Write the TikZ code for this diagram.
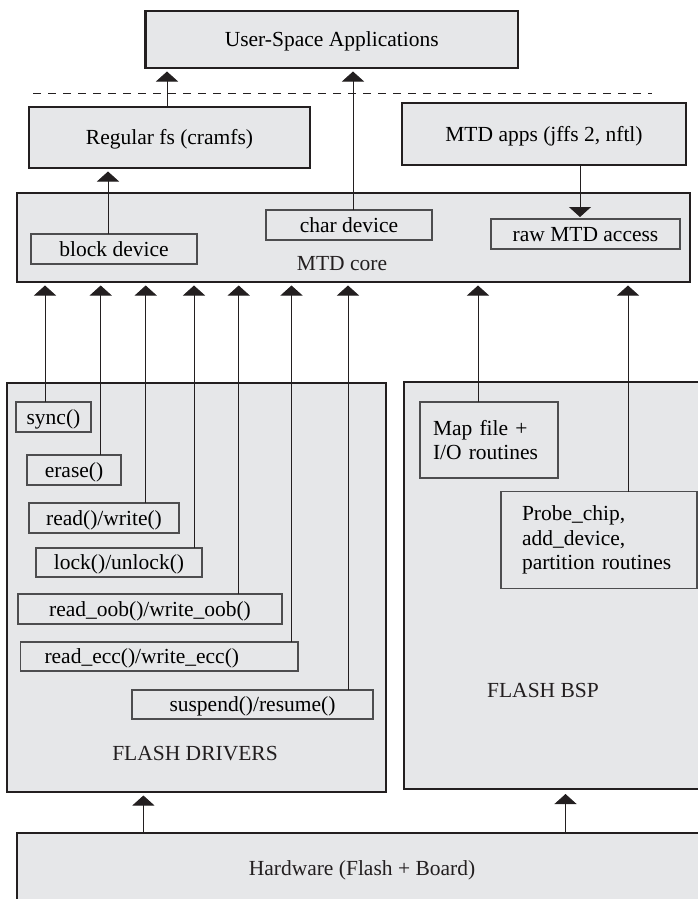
\documentclass[tikz,border=0pt]{standalone}
\usepackage{fontspec}
\setmainfont{Liberation Serif}
\usetikzlibrary{arrows.meta,calc}
\definecolor{boxfill}{HTML}{E6E7E9}
\definecolor{boxline}{HTML}{231F20}
\definecolor{subline}{HTML}{4D4D4F}
\begin{document}
\begin{tikzpicture}[x=1pt,y=-1pt,
  every node/.style={font=\fontsize{21.5}{24.5}\selectfont, inner sep=0pt, outer sep=0pt},
  one/.style={text height=16pt, text depth=2pt},
  bigbox/.style 2 args={draw=boxline, fill=boxfill, line width=2.3pt, minimum width=#1pt, minimum height=#2pt},
  subbox/.style 2 args={draw=subline, fill=boxfill, line width=1.1pt, minimum width=#1pt, minimum height=#2pt},
  lbl/.style={anchor=base, text=boxline},
  arr/.style={draw=boxline, line width=0.9pt, -{Triangle[width=22pt,length=10pt]}, shorten >=3.5pt},
  conn/.style={draw=boxline, line width=0.9pt}
]
\useasboundingbox (0,0) rectangle (698,899);
\clip (0,0) rectangle (698,899);

% main boxes
\node[bigbox={372.5}{57}, one] (user) at (331.75,39.5) {User-Space Applications};
\node[bigbox={281}{61}, one] (regfs) at (169.5,137.5) {Regular fs (cramfs)};
\node[bigbox={284}{62}, one] (mtdapps) at (544,134) {MTD apps (jffs 2, nftl)};
\node[bigbox={673}{89}] (core) at (353.5,237.5) {};
\node[lbl] (corelbl) at (342,270) {MTD core};
\node[bigbox={379}{409}] (drivers) at (196.5,587.5) {};
\node[lbl] (drvlbl) at (195,760) {FLASH DRIVERS};
\node[bigbox={326}{407}] (bsp) at (567,585.5) {};
\node[lbl] (bsplbl) at (543,697) {FLASH BSP};
\node[bigbox={723}{107}] (hw) at (378.5,886.5) {};
\node[lbl] (hwlbl) at (362,875) {Hardware (Flash + Board)};

% MTD core sub boxes
\node[subbox={166}{30}, one] (blockdev) at (114,249) {block device};
\node[subbox={166}{30}, one] (chardev) at (349,225) {char device};
\node[subbox={189}{30}, one] (rawmtd) at (585.5,234) {raw MTD access};

% driver sub boxes
\node[subbox={75}{30}, one] (sync) at (53.5,417) {sync()};
\node[subbox={94}{30}, one] (erase) at (74,470) {erase()};
\node[subbox={150}{30}, one] (rw) at (104,518) {read()/write()};
\node[subbox={166}{29}, one] (lock) at (119,562.5) {lock()/unlock()};
\node[subbox={264}{30}, one] (oob) at (150,609) {read\_oob()/write\_oob()};
\node[subbox={277.5}{29}, one, text width=229.5pt, align=left, inner xsep=24pt] (ecc) at (159.25,656.5) {read\_ecc()/write\_ecc()};
\node[subbox={241}{29}, one] (susp) at (252.5,704.5) {suspend()/resume()};

% BSP sub boxes
\node[subbox={138}{76}, text width=112pt, align=left, inner xsep=13pt] (mapfile) at (489,440) {Map file +\\I/O routines};
\node[subbox={196}{97}, text width=154pt, align=left, inner xsep=21pt] (probe) at (599,540) {Probe\_chip,\\add\_device,\\partition routines};

% separator
\draw[conn, dash pattern=on 8pt off 7pt] (33,93) -- (652,93);

% connectors
\draw[arr] ([xshift=138pt]regfs.north west) coordinate (c1) -- (c1 |- user.south);
\draw[arr] ([xshift=87pt]chardev.north west) coordinate (c2) -- (c2 |- user.south);
\draw[arr] ([xshift=77pt]blockdev.north west) coordinate (c3) -- (c3 |- regfs.south);
\draw[arr, shorten >=2pt] ([xshift=178pt]mtdapps.south west) coordinate (c4) -- (c4 |- rawmtd.north);

\draw[arr] ([xshift=29pt]sync.north west) coordinate (d1) -- (d1 |- core.south);
\draw[arr] ([xshift=73.7pt]erase.north west) coordinate (d2) -- (d2 |- core.south);
\draw[arr] ([xshift=116.7pt]rw.north west) coordinate (d3) -- (d3 |- core.south);
\draw[arr] ([xshift=158pt]lock.north west) coordinate (d4) -- (d4 |- core.south);
\draw[arr] ([xshift=220.7pt]oob.north west) coordinate (d5) -- (d5 |- core.south);
\draw[arr] ([xshift=271pt]ecc.north west) coordinate (d6) -- (d6 |- core.south);
\draw[arr] ([xshift=216pt]susp.north west) coordinate (d7) -- (d7 |- core.south);

\draw[arr] ([xshift=58pt]mapfile.north west) coordinate (b1) -- (b1 |- core.south);
\draw[arr] ([xshift=127pt]probe.north west) coordinate (b2) -- (b2 |- core.south);

\draw[arr] ([xshift=126.4pt]hw.north west) coordinate (h1) -- (h1 |- drivers.south);
\draw[arr, shorten >=5pt] ([xshift=548.5pt]hw.north west) coordinate (h2) -- (h2 |- bsp.south);
\end{tikzpicture}
\end{document}
